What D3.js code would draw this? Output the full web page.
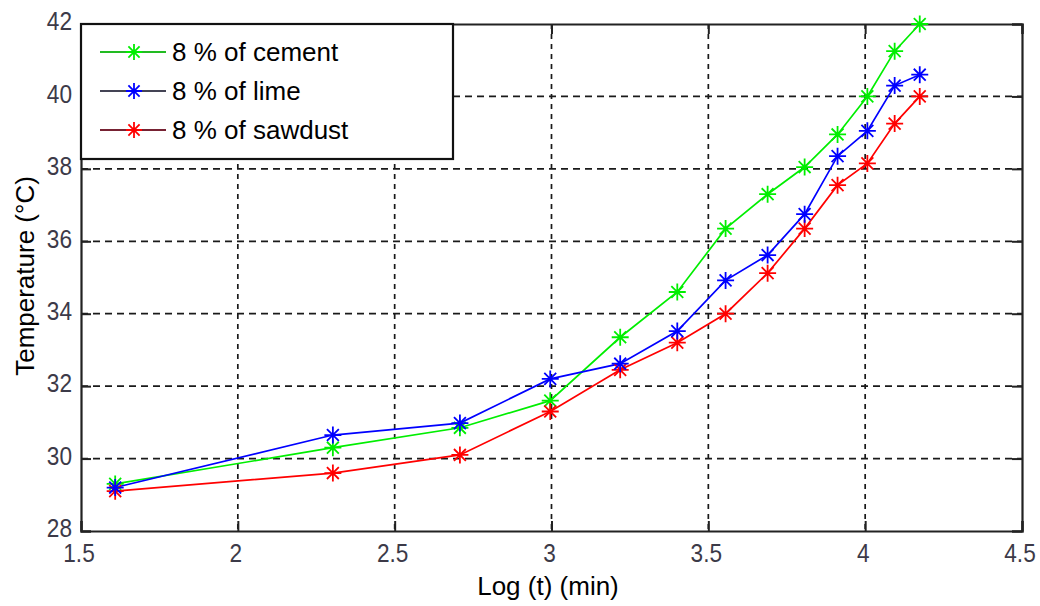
<!DOCTYPE html>
<html><head><meta charset="utf-8">
<script src="https://cdn.jsdelivr.net/npm/d3@7"></script>
<style>body{margin:0;background:#fff}svg{display:block}</style>
</head><body>
<svg id="chart" width="1040" height="606"></svg>
<script>
const logTime = [1.609, 2.303, 2.708, 2.996, 3.219, 3.401, 3.555, 3.689, 3.807, 3.912, 4.007, 4.094, 4.174];
const cement  = [29.3, 30.3, 30.85, 31.6, 33.35, 34.6, 36.35, 37.3, 38.05, 38.95, 40.0, 41.25, 42.0];
const lime    = [29.2, 30.65, 30.98, 32.2, 32.62, 33.52, 34.92, 35.62, 36.75, 38.35, 39.05, 40.3, 40.6];
const sawdust = [29.1, 29.6, 30.1, 31.3, 32.45, 33.2, 34.0, 35.12, 36.35, 37.55, 38.15, 39.25, 40.0];
const seriesNames = ["8 % of cement", "8 % of lime", "8 % of sawdust"];
const seriesColors = ["#00ee00", "#0000ff", "#ff0000"];
const legendLineColors = ["#22bb22", "#444455", "#772233"];
const xTicks = [1.5, 2, 2.5, 3, 3.5, 4, 4.5];
const yTicks = [28, 30, 32, 34, 36, 38, 40, 42];

const svg = d3.select("#chart");
const L = 81, R = 1022, T = 24, B = 531;
const x = d3.scaleLinear().domain([1.5, 4.5]).range([L, R]);
const y = d3.scaleLinear().domain([28, 42]).range([B, T]);
const FONT = "Liberation Sans, Arial, sans-serif";

// grid
const g = svg.append("g");
g.selectAll(".vg").data(xTicks.slice(1, -1)).join("line")
  .attr("x1", d => x(d)).attr("x2", d => x(d)).attr("y1", T).attr("y2", B)
  .attr("stroke", "#1a1a1a").attr("stroke-width", 1.7).attr("stroke-dasharray", "5,5");
g.selectAll(".hg").data(yTicks.slice(1, -1)).join("line")
  .attr("y1", d => y(d)).attr("y2", d => y(d)).attr("x1", L).attr("x2", R)
  .attr("stroke", "#1a1a1a").attr("stroke-width", 1.7).attr("stroke-dasharray", "7,5");

// axes
const xAxis = d3.axisBottom(x).tickValues(xTicks).tickSize(-10).tickPadding(17).tickFormat(d3.format("~g"));
const yAxis = d3.axisLeft(y).tickValues(yTicks).tickSize(-10).tickPadding(9).tickFormat(d3.format("~g"));
const xa = svg.append("g").attr("transform", `translate(0,${B})`).call(xAxis);
const ya = svg.append("g").attr("transform", `translate(${L},0)`).call(yAxis);
const xaTop = svg.append("g").attr("transform", `translate(0,${T})`).call(d3.axisTop(x).tickValues(xTicks).tickSize(-10).tickFormat(""));
const yaRight = svg.append("g").attr("transform", `translate(${R},0)`).call(d3.axisRight(y).tickValues(yTicks).tickSize(-10).tickFormat(""));
[xa, ya, xaTop, yaRight].forEach(a => {
  a.select(".domain").attr("stroke", "#222").attr("stroke-width", 2.2);
  a.selectAll(".tick line").attr("stroke", "#222").attr("stroke-width", 2);
  a.selectAll("text").attr("fill", "#3c3a48").attr("font-family", FONT).attr("font-size", 26);
});
xa.selectAll("text").attr("dy", "0.55em").attr("dx", -2.5);
ya.selectAll("text").attr("dy", "0.22em");
// condensed look of the tick labels
[xa, ya].forEach(a => a.selectAll("text").each(function () {
  const w = this.getComputedTextLength();
  d3.select(this).attr("textLength", w * 0.87).attr("lengthAdjust", "spacingAndGlyphs");
}));

// lines
const line = d3.line().x((d, i) => x(logTime[i])).y(d => y(d));
const allSeries = [cement, lime, sawdust];
function star(sel, cx, cy, r, color) {
  const a = r * 0.7;
  const p = `M${cx - r},${cy}L${cx + r},${cy}M${cx},${cy - r}L${cx},${cy + r}M${cx - a},${cy - a}L${cx + a},${cy + a}M${cx - a},${cy + a}L${cx + a},${cy - a}`;
  sel.append("path").attr("d", p).attr("stroke", color).attr("stroke-width", 1.8).attr("fill", "none");
}
const drawOrder = [0, 2, 1];
drawOrder.forEach(k => {
  svg.append("path").datum(allSeries[k]).attr("d", line).attr("fill", "none")
    .attr("stroke", seriesColors[k]).attr("stroke-width", 1.7);
});
drawOrder.forEach(k => {
  const gm = svg.append("g");
  allSeries[k].forEach((v, i) => star(gm, x(logTime[i]), y(v), 8.5, seriesColors[k]));
});

// legend
const lg = svg.append("g");
lg.append("rect").attr("x", L).attr("y", T).attr("width", 372).attr("height", 135)
  .attr("fill", "#fff").attr("stroke", "#111").attr("stroke-width", 2.2);
const legendY = [52, 91, 130];
seriesNames.forEach((name, k) => {
  const cy = legendY[k];
  lg.append("line").attr("x1", 100).attr("x2", 166).attr("y1", cy).attr("y2", cy)
    .attr("stroke", legendLineColors[k]).attr("stroke-width", 1.8);
  star(lg, 134, cy, 8, seriesColors[k]);
  lg.append("text").attr("x", 172).attr("y", cy).attr("dy", "0.36em")
    .attr("font-family", FONT).attr("font-size", 26)
    .attr("fill", "#000").text(name);
});

// axis titles
svg.append("text").attr("x", 548).attr("y", 595).attr("text-anchor", "middle")
  .attr("font-family", FONT).attr("font-size", 26).text("Log (t) (min)");
svg.append("text").attr("transform", `translate(34,276) rotate(-90)`).attr("text-anchor", "middle")
  .attr("font-family", FONT).attr("font-size", 26).text("Temperature (°C)");
</script>
</body></html>
